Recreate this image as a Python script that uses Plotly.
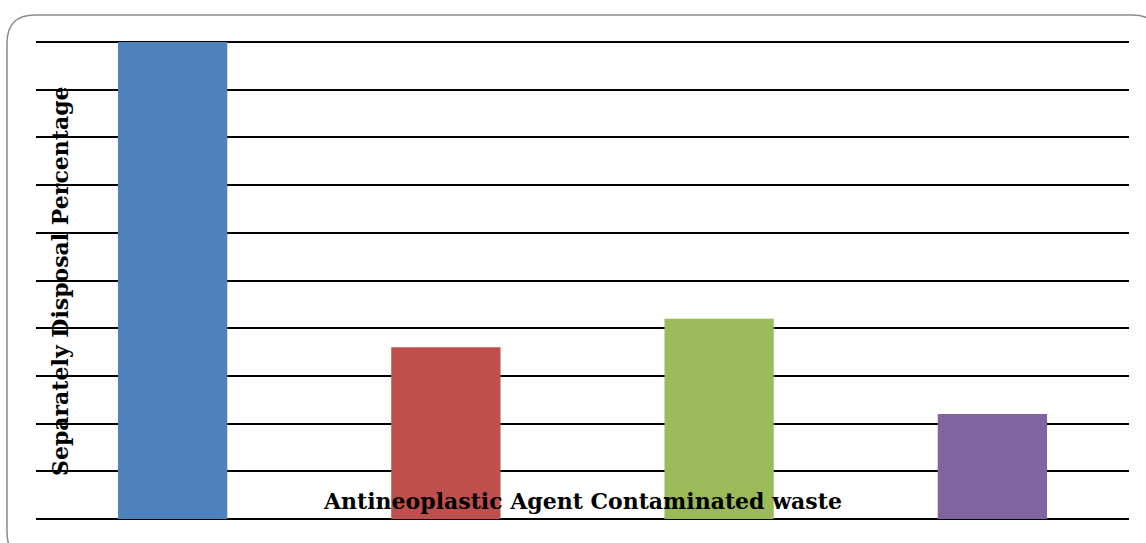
import plotly.graph_objects as go

categories = ["A", "B", "C", "D"]
values = [100, 36, 42, 22]
colors = ["#4F81BD", "#C0504D", "#9BBB59", "#8064A2"]
x_title = "Antineoplastic Agent Contaminated waste"
y_title = "Separately Disposal Percentage"

W, H = 1146, 543
fig = go.Figure()
fig.add_trace(go.Bar(x=categories, y=values, marker=dict(color=colors, line=dict(width=0)),
                     width=0.4, hoverinfo="skip"))

def px(x):
    return x / W

def py(y):
    return 1 - y / H

# rounded border
x0, y0, x1, y1, r = 7, 15, 1160, 560, 28
path = (f"M {px(x0+r)},{py(y0)} L {px(x1-r)},{py(y0)} Q {px(x1)},{py(y0)} {px(x1)},{py(y0+r)} "
        f"L {px(x1)},{py(y1-r)} Q {px(x1)},{py(y1)} {px(x1-r)},{py(y1)} "
        f"L {px(x0+r)},{py(y1)} Q {px(x0)},{py(y1)} {px(x0)},{py(y1-r)} "
        f"L {px(x0)},{py(y0+r)} Q {px(x0)},{py(y0)} {px(x0+r)},{py(y0)} Z")
fig.add_shape(type="path", path=path, xref="paper", yref="paper",
              line=dict(color="#8c8c8c", width=1.5), layer="below")

# top gridline at the range edge
fig.add_shape(type="line", xref="paper", yref="paper", x0=px(36), x1=px(1129),
              y0=py(42), y1=py(42), line=dict(color="black", width=2), layer="below")

FONT = "DejaVu Serif"
fig.add_annotation(text=f"<b>{x_title}</b>", xref="paper", yref="paper",
                   x=px(582), y=py(501), xanchor="center", yanchor="middle",
                   showarrow=False, font=dict(family=FONT, size=22, color="black"))
fig.add_annotation(text=f"<b>{y_title}</b>", xref="paper", yref="paper",
                   x=px(60), y=py(281), xanchor="center", yanchor="middle", textangle=-90,
                   showarrow=False, font=dict(family=FONT, size=22, color="black"))

fig.update_layout(
    width=W, height=H, margin=dict(l=0, r=0, t=0, b=0),
    paper_bgcolor="white", plot_bgcolor="white", showlegend=False,
    xaxis=dict(domain=[px(36), px(1129)], showticklabels=False, showgrid=False,
               zeroline=False, showline=False, ticks=""),
    yaxis=dict(domain=[py(519), py(42)], range=[0, 100], dtick=10, showticklabels=False,
               showgrid=True, gridcolor="black", gridwidth=2, zeroline=True,
               zerolinecolor="black", zerolinewidth=2, ticks="", showline=False),
    bargap=0.6,
)
fig.write_html("out.html")
